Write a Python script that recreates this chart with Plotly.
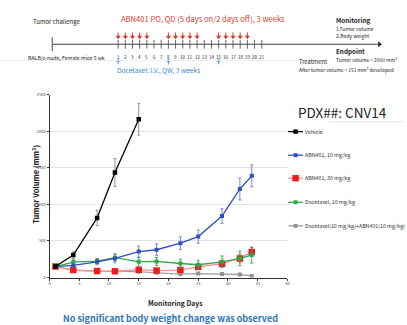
import plotly.graph_objects as go

W, H = 407, 325

# ---------------- data ----------------
days_vehicle = [1, 4, 8, 11, 15]
days_treat = [1, 4, 8, 11, 15, 18, 22, 25, 29, 32, 34]

vehicle = [150, 308, 815, 1435, 2162]
vehicle_err = [10, 45, 105, 190, 215]

abn10 = [150, 165, 215, 262, 355, 380, 470, 560, 840, 1210, 1390]
abn10_err = [10, 25, 40, 60, 75, 80, 85, 90, 100, 150, 150]

abn30 = [150, 102, 88, 86, 108, 95, 102, 145, 190, 262, 350]
abn30_err = [10, 15, 15, 15, 20, 20, 30, 25, 40, 60, 60]

docetaxel = [150, 212, 225, 272, 215, 220, 192, 175, 215, 262, 308]
docetaxel_err = [10, 40, 35, 50, 60, 55, 60, 60, 80, 100, 110]

combo = [150, 100, 88, 85, 80, 65, 48, 55, 50, 42, 22]
combo_err = [10, 15, 12, 12, 15, 12, 10, 10, 10, 10, 8]

series_names = ["Vehicle", "ABN401, 10 mg/kg", "ABN401, 30 mg/kg",
                "Docetaxel, 10 mg/kg", "Docetaxel(10 mg/kg)+ABN401(10 mg/kg)"]

timeline_days = list(range(1, 22))
abn_dose_days = [1, 2, 3, 4, 5, 8, 9, 10, 11, 12, 15, 16, 17, 18, 19]
doc_dose_days = [1, 8, 15]

y_ticks = [0, 500, 1000, 1500, 2000, 2500]
x_ticks = [0, 5, 10, 15, 20, 25, 30, 35, 40]

FONT = "Noto Sans CJK KR"


def px(x):
    return x / W


def py(y):
    return 1 - y / H


fig = go.Figure()

styles = [
    dict(line_color="#000000", mc="#000000", ms=4.5, ec="#888888"),
    dict(line_color="#3050b8", mc="#3050b8", ms=4, ec="#6a7fcc"),
    dict(line_color="#f59090", mc="#ee1c1c", ms=6.5, ec="#f07070"),
    dict(line_color="#2ea84a", mc="#2ea84a", ms=4, ec="#2ea84a"),
    dict(line_color="#a0a0a0", mc="#909090", ms=4, ec="#a0a0a0"),
]
data = [
    (days_vehicle, vehicle, vehicle_err),
    (days_treat, abn10, abn10_err),
    (days_treat, abn30, abn30_err),
    (days_treat, docetaxel, docetaxel_err),
    (days_treat, combo, combo_err),
]

order = [4, 2, 3, 1, 0]
for i in order:
    d, v, e = data[i]
    s = styles[i]
    fig.add_trace(go.Scatter(
        x=d, y=v, mode="lines+markers", name=series_names[i],
        line=dict(color=s["line_color"], width=1.3),
        marker=dict(symbol="square", size=s["ms"], color=s["mc"]),
        error_y=dict(type="data", array=e, visible=True, color=s["ec"],
                     thickness=0.9, width=1.5),
        showlegend=False, xaxis="x", yaxis="y",
    ))

# ---------------- timeline (own axes, in days) ----------------
# pixel x = 118.3 + 7.25*(day-1)
d_left = (0 - 118.3) / 7.25 + 1
d_right = (W - 118.3) / 7.25 + 1
start_day = (51.7 - 118.3) / 7.25 + 1
end_day = (384 - 118.3) / 7.25 + 1

shapes = []
annotations = []

# main timeline line
shapes.append(dict(type="line", xref="x2", yref="y2", x0=start_day, x1=end_day - 0.3,
                   y0=41, y1=41, line=dict(color="#444444", width=1)))
shapes.append(dict(type="line", xref="x2", yref="y2", x0=start_day, x1=start_day,
                   y0=34, y1=48, line=dict(color="#444444", width=1)))
for dday in timeline_days:
    shapes.append(dict(type="line", xref="x2", yref="y2", x0=dday, x1=dday,
                       y0=36.5, y1=45.5, line=dict(color="#444444", width=0.8)))
    annotations.append(dict(xref="x2", yref="y2", x=dday, y=54, text=str(dday),
                            showarrow=False, font=dict(size=4.5, color="#222222", family=FONT)))
# arrow stems
for dday in abn_dose_days:
    shapes.append(dict(type="line", xref="x2", yref="y2", x0=dday, x1=dday,
                       y0=29, y1=33, line=dict(color="#d23a2a", width=1)))
for dday in doc_dose_days:
    shapes.append(dict(type="line", xref="x2", yref="y2", x0=dday, x1=dday,
                       y0=58, y1=61.5, line=dict(color="#3a8ad8", width=1)))

# arrow heads
fig.add_trace(go.Scatter(x=abn_dose_days, y=[33.5] * len(abn_dose_days), mode="markers",
                         marker=dict(symbol="triangle-down", size=4.5, color="#d23a2a"),
                         xaxis="x2", yaxis="y2", showlegend=False, hoverinfo="skip"))
fig.add_trace(go.Scatter(x=doc_dose_days, y=[57.5] * len(doc_dose_days), mode="markers",
                         marker=dict(symbol="triangle-up", size=4, color="#3a8ad8"),
                         xaxis="x2", yaxis="y2", showlegend=False, hoverinfo="skip"))
fig.add_trace(go.Scatter(x=[end_day - 0.25], y=[41], mode="markers",
                         marker=dict(symbol="triangle-right", size=5, color="#222222"),
                         xaxis="x2", yaxis="y2", showlegend=False, hoverinfo="skip"))

# faint separator
shapes.append(dict(type="line", xref="paper", yref="paper", x0=0, x1=px(300),
                   y0=py(57.5), y1=py(57.5), line=dict(color="#eeeeee", width=1)))


def txt(x, y, s, size, color="#222222", anchor="left", bold=False, family=FONT):
    if bold:
        s = "<b>" + s + "</b>"
    annotations.append(dict(xref="paper", yref="paper", x=px(x), y=py(y), text=s,
                            showarrow=False, xanchor=anchor, yanchor="middle",
                            font=dict(size=size, color=color, family=family)))


txt(30, 18.3, "Tumor challenge", 6)
txt(119, 15, "ABN401 PO, QD (5 days on/2 days off), 3 weeks", 7.6, color="#d9402c")
txt(336, 17.3, "Monitoring", 6.3, bold=True)
txt(336, 25.3, "1.Tumor volume", 5)
txt(336, 32.5, "2.Body weight", 5)
txt(336, 48.3, "Endpoint", 6.3, bold=True)
txt(336, 56.7, "Tumor volume = 2000 mm<sup>3</sup>", 4.9)
txt(299, 59, "Treatment", 5.8)
txt(299, 67.2, "After tumor volume = 151 mm<sup>3</sup> developed", 4.9)
txt(25, 54, "BALB/c-nude, Female mice 5 wk", 5.2)
txt(115, 67.5, "Docetaxel: I.V., QW, 3 weeks", 6.6, color="#3a8ad8")

# PDX label
txt(298, 110, "PDX##: CNV14", 13.5, color="#222222")
shapes.append(dict(type="line", xref="paper", yref="paper", x0=px(331), x1=1,
                   y0=py(120), y1=py(120), line=dict(color="#e6e6e6", width=1)))

# axis titles and caption
annotations.append(dict(xref="paper", yref="paper", x=px(27), y=py(184),
                        text="<b>Tumor Volume (mm<sup>3</sup>)</b>", textangle=-90,
                        showarrow=False, font=dict(size=7.5, color="#222222", family=FONT)))
txt(176.5, 304.3, "Monitoring Days", 6.8, anchor="center", bold=True)
txt(171.5, 320.5, "No significant body weight change was observed", 9,
    color="#2e75b6", anchor="center", bold=True)

# manual legend
leg_y = [130, 154, 177.5, 202, 226]
for i, yy in enumerate(leg_y):
    s = styles[i]
    shapes.append(dict(type="line", xref="paper", yref="paper", x0=px(290), x1=px(305),
                       y0=py(yy), y1=py(yy), line=dict(color=s["line_color"], width=1.3)))
    half = s["ms"] / 2
    shapes.append(dict(type="rect", xref="paper", yref="paper",
                       x0=px(297.5 - half), x1=px(297.5 + half),
                       y0=py(yy + half), y1=py(yy - half),
                       line=dict(width=0), fillcolor=s["mc"]))
    txt(305, yy, series_names[i], 5.3, color="#333333")

fig.update_layout(
    width=W, height=H,
    margin=dict(l=0, r=0, t=0, b=0, pad=0),
    paper_bgcolor="white", plot_bgcolor="white",
    showlegend=False,
    font=dict(family=FONT),
    xaxis=dict(domain=[px(49), px(289.3)], range=[0, 40], tickvals=x_ticks,
               showgrid=False, zeroline=False, showline=True, linecolor="#333333",
               linewidth=1, ticks="outside", ticklen=2, tickcolor="#333333",
               tickfont=dict(size=4, color="#444444"), anchor="y"),
    yaxis=dict(domain=[py(278.7), py(92.3)], range=[0, 2500], tickvals=y_ticks,
               showgrid=True, gridcolor="#e2e2e2", gridwidth=1, zeroline=False,
               showline=True, linecolor="#333333", linewidth=1, ticks="outside",
               ticklen=2, tickcolor="#333333",
               tickfont=dict(size=4, color="#444444"), anchor="x"),
    xaxis2=dict(domain=[0, 1], range=[d_left, d_right], visible=False, anchor="y2",
                fixedrange=True),
    yaxis2=dict(domain=[py(85), 1], range=[85, 0], visible=False, anchor="x2",
                fixedrange=True),
    shapes=shapes,
    annotations=annotations,
)

fig.write_html("out.html")
